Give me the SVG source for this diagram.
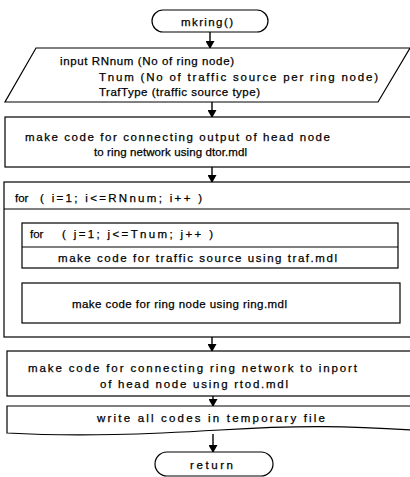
<svg xmlns="http://www.w3.org/2000/svg" width="410" height="477" viewBox="0 0 410 477">
<defs>
<marker id="ah" markerWidth="8" markerHeight="9" refX="7" refY="4.5" orient="auto" markerUnits="userSpaceOnUse">
<path d="M0,0 L8,4.5 L0,9 Z" fill="#000"/>
</marker>
<style>
.s{fill:#fff;stroke:#000;stroke-width:1.2}
.l{fill:none;stroke:#000;stroke-width:1.2}
.t{font-family:"Liberation Sans","DejaVu Sans",sans-serif;font-size:11.5px;fill:#000;stroke:#000;stroke-width:0.25}
.c{stroke:#000;stroke-width:1.4;fill:none;marker-end:url(#ah)}
</style>
</defs>
<rect width="410" height="477" fill="#fff"/>
<g id="connectors">
<line class="c" x1="210" y1="32" x2="210" y2="48"/>
<line class="c" x1="212" y1="102" x2="212" y2="117"/>
<line class="c" x1="212" y1="167" x2="212" y2="182"/>
<line class="c" x1="212" y1="209" x2="212" y2="223"/>
<line class="c" x1="212" y1="268" x2="212" y2="283"/>
<line class="c" x1="212" y1="337" x2="212" y2="351"/>
<line class="c" x1="213" y1="396" x2="213" y2="406"/>
<line class="c" x1="213" y1="434" x2="213" y2="452"/>
</g>
<g id="start">
<rect class="s" x="152" y="10" width="116" height="22" rx="11"/>
<text class="t" x="181" y="26" textLength="52" lengthAdjust="spacing">mkring()</text>
</g>
<g id="input">
<polygon class="s" points="36,48 410,48 378,102 5,102"/>
<text class="t" x="60" y="65" textLength="174" lengthAdjust="spacing">input RNnum (No of ring node)</text>
<text class="t" x="99" y="81" textLength="279" lengthAdjust="spacing">Tnum (No of traffic source per ring node)</text>
<text class="t" x="99" y="96" textLength="161" lengthAdjust="spacing">TrafType (traffic source type)</text>
</g>
<g id="dtor">
<rect class="s" x="5" y="117" width="406" height="50"/>
<text class="t" x="25" y="141" textLength="305" lengthAdjust="spacing">make code for connecting output of head node</text>
<text class="t" x="94" y="156" textLength="153" lengthAdjust="spacing">to ring network using dtor.mdl</text>
</g>
<g id="loop-i">
<rect class="s" x="4" y="182" width="407" height="155"/>
<line class="l" x1="4" y1="209" x2="411" y2="209"/>
<text class="t" y="202"><tspan x="15">for</tspan><tspan x="40" textLength="162" lengthAdjust="spacing">( i=1; i&lt;=RNnum; i++ )</tspan></text>
</g>
<g id="loop-j">
<rect class="s" x="22" y="223" width="376" height="45"/>
<line class="l" x1="22" y1="247" x2="398" y2="247"/>
<text class="t" y="238"><tspan x="30">for</tspan><tspan x="62" textLength="151" lengthAdjust="spacing">( j=1; j&lt;=Tnum; j++ )</tspan></text>
</g>
<g id="traf">
<text class="t" x="58" y="262" textLength="279" lengthAdjust="spacing">make code for traffic source using traf.mdl</text>
</g>
<g id="ring">
<rect class="s" x="22" y="283" width="378" height="40"/>
<text class="t" x="72" y="308" textLength="215" lengthAdjust="spacing">make code for ring node using ring.mdl</text>
</g>
<g id="rtod">
<rect class="s" x="7" y="351" width="404" height="45"/>
<text class="t" x="28" y="372" textLength="329" lengthAdjust="spacing">make code for connecting ring network to inport</text>
<text class="t" x="100" y="388" textLength="188" lengthAdjust="spacing">of head node using rtod.mdl</text>
</g>
<g id="write">
<path class="s" d="M7,406 H411 V430 C350,426 300,425 220,430 C150,434 80,437 7,433 Z"/>
<text class="t" x="97" y="422" textLength="228" lengthAdjust="spacing">write all codes in temporary file</text>
</g>
<g id="end">
<rect class="s" x="155" y="452" width="118" height="24" rx="12"/>
<text class="t" x="190" y="469" textLength="43" lengthAdjust="spacing">return</text>
</g>
</svg>
